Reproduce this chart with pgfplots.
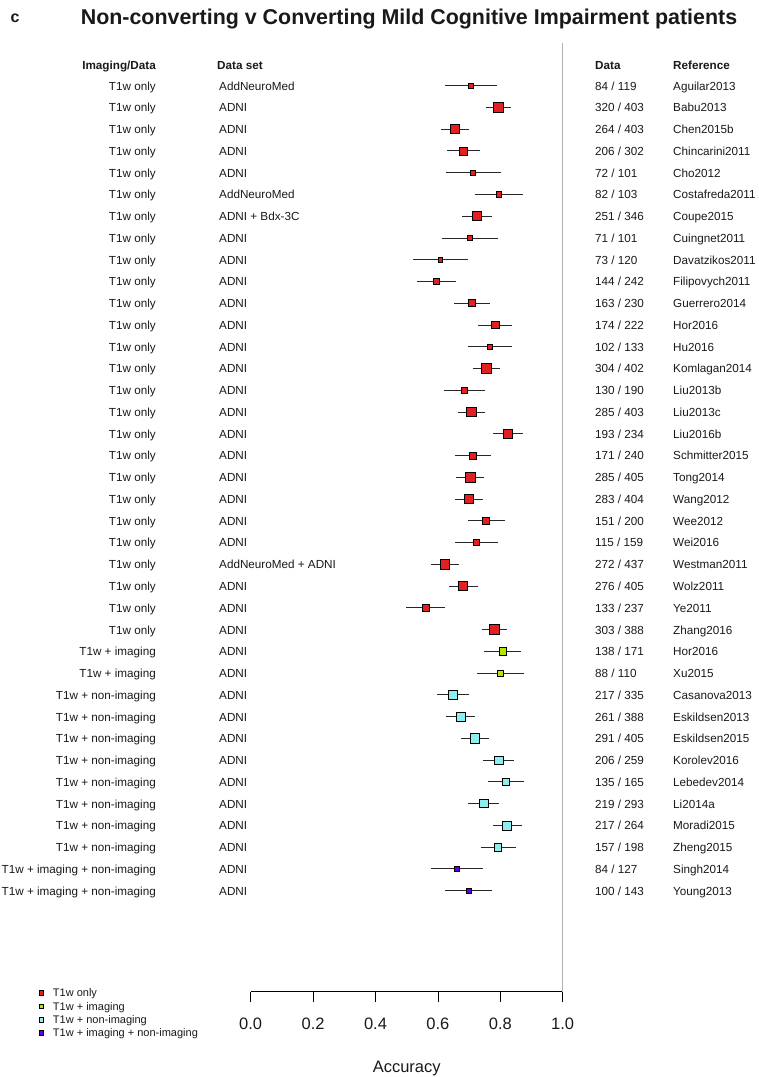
\documentclass[border=0pt]{standalone}
\usepackage{pgfplots}
\pgfplotsset{compat=1.18}
\usepackage{pgfplotstable}
\usepackage{fontspec}
\setmainfont{Liberation Sans}

\definecolor{cOne}{RGB}{226,32,36}
\definecolor{cTwo}{RGB}{182,230,0}
\definecolor{cThree}{RGB}{140,238,238}
\definecolor{cFour}{RGB}{96,0,224}
\definecolor{cil}{RGB}{40,40,40}
\definecolor{txt}{RGB}{25,25,25}
\newcommand{\body}{\fontsize{11.7bp}{14bp}\selectfont}

% row, accuracy, 95% CI low, 95% CI high
\pgfplotstableread[col sep=comma]{
row,acc,lo,hi
1,0.706,0.624,0.788
2,0.794,0.755,0.834
3,0.655,0.609,0.701
4,0.682,0.630,0.735
5,0.713,0.625,0.801
6,0.796,0.718,0.874
7,0.725,0.678,0.772
8,0.703,0.614,0.792
9,0.608,0.521,0.695
10,0.595,0.533,0.657
11,0.709,0.650,0.768
12,0.784,0.730,0.838
13,0.767,0.695,0.839
14,0.756,0.714,0.798
15,0.684,0.618,0.750
16,0.707,0.663,0.751
17,0.825,0.776,0.874
18,0.7125,0.655,0.770
19,0.704,0.659,0.748
20,0.700,0.655,0.745
21,0.755,0.695,0.815
22,0.723,0.654,0.793
23,0.622,0.577,0.668
24,0.681,0.636,0.727
25,0.561,0.498,0.624
26,0.781,0.740,0.822
}\tOne
\pgfplotstableread[col sep=comma]{
row,acc,lo,hi
27,0.807,0.748,0.866
28,0.800,0.725,0.875
}\tTwo
\pgfplotstableread[col sep=comma]{
row,acc,lo,hi
29,0.648,0.597,0.699
30,0.673,0.626,0.720
31,0.719,0.675,0.763
32,0.795,0.746,0.844
33,0.818,0.759,0.877
34,0.747,0.697,0.797
35,0.822,0.776,0.868
36,0.793,0.737,0.849
}\tThree
\pgfplotstableread[col sep=comma]{
row,acc,lo,hi
37,0.661,0.579,0.743
38,0.699,0.624,0.774
}\tFour

\pgfplotstableread[col sep=comma]{
imaging,dataset,data,ref
T1w only,AddNeuroMed,84 / 119,Aguilar2013
T1w only,ADNI,320 / 403,Babu2013
T1w only,ADNI,264 / 403,Chen2015b
T1w only,ADNI,206 / 302,Chincarini2011
T1w only,ADNI,72 / 101,Cho2012
T1w only,AddNeuroMed,82 / 103,Costafreda2011
T1w only,ADNI + Bdx-3C,251 / 346,Coupe2015
T1w only,ADNI,71 / 101,Cuingnet2011
T1w only,ADNI,73 / 120,Davatzikos2011
T1w only,ADNI,144 / 242,Filipovych2011
T1w only,ADNI,163 / 230,Guerrero2014
T1w only,ADNI,174 / 222,Hor2016
T1w only,ADNI,102 / 133,Hu2016
T1w only,ADNI,304 / 402,Komlagan2014
T1w only,ADNI,130 / 190,Liu2013b
T1w only,ADNI,285 / 403,Liu2013c
T1w only,ADNI,193 / 234,Liu2016b
T1w only,ADNI,171 / 240,Schmitter2015
T1w only,ADNI,285 / 405,Tong2014
T1w only,ADNI,283 / 404,Wang2012
T1w only,ADNI,151 / 200,Wee2012
T1w only,ADNI,115 / 159,Wei2016
T1w only,AddNeuroMed + ADNI,272 / 437,Westman2011
T1w only,ADNI,276 / 405,Wolz2011
T1w only,ADNI,133 / 237,Ye2011
T1w only,ADNI,303 / 388,Zhang2016
T1w + imaging,ADNI,138 / 171,Hor2016
T1w + imaging,ADNI,88 / 110,Xu2015
T1w + non-imaging,ADNI,217 / 335,Casanova2013
T1w + non-imaging,ADNI,261 / 388,Eskildsen2013
T1w + non-imaging,ADNI,291 / 405,Eskildsen2015
T1w + non-imaging,ADNI,206 / 259,Korolev2016
T1w + non-imaging,ADNI,135 / 165,Lebedev2014
T1w + non-imaging,ADNI,219 / 293,Li2014a
T1w + non-imaging,ADNI,217 / 264,Moradi2015
T1w + non-imaging,ADNI,157 / 198,Zheng2015
T1w + imaging + non-imaging,ADNI,84 / 127,Singh2014
T1w + imaging + non-imaging,ADNI,100 / 143,Young2013
}\tText

\pgfplotsset{
  ci/.style={forget plot, only marks, mark=none,
    error bars/.cd, x dir=both, x explicit, error mark=none,
    error bar style={line width=1.0bp, color=cil}},
  sq/.style={scatter, only marks, mark=square*,
    point meta=\thisrow{acc},
    scatter/use mapped color={draw=black, fill=#1},
    visualization depends on={0.415/(\thisrow{hi}-\thisrow{lo}) \as \msize},
    scatter/@pre marker code/.append style={/tikz/mark size=\msize bp},
    mark options={line width=0.8bp},
    legend image code/.code={\node[draw=black, fill=#1, line width=0.7bp,
      minimum width=4.6bp, minimum height=4.6bp, text height=0pt, text depth=0pt,
      text width=0pt, inner sep=0pt] at (2.6bp,0) {};}},
}

\begin{document}
\begin{tikzpicture}
\path[use as bounding box] (0,0) rectangle (759bp,-1077bp);

\begin{axis}[
  at={(250.7bp,-991.7bp)}, anchor=south west,
  scale only axis, width=312bp, height=946.7bp,
  xmin=0, xmax=1, ymin=-42.64, ymax=0.87,
  clip=false,
  axis x line*=bottom, axis y line=none,
  x axis line style={line width=0.8bp, black},
  xtick={0,0.2,0.4,0.6,0.8,1.0},
  tick align=outside, major tick length=10bp,
  x tick style={line width=0.8bp, black},
  /pgf/number format/assume math mode=true,
  xticklabel style={font=\fontsize{16.5bp}{18bp}\selectfont, text=txt, yshift=-13bp,
    /pgf/number format/.cd, fixed, fixed zerofill, precision=1},
  xlabel={Accuracy},
  xlabel style={at={(axis description cs:0.5,0)}, anchor=base, yshift=-81bp,
    font=\fontsize{16.5bp}{18bp}\selectfont, text=txt},
  legend style={at={(axis cs:-0.6795,-42.52)}, anchor=north west,
    draw=none, fill=none, inner sep=0pt, outer sep=0pt,
    row sep=5.6bp, column sep=9bp,
    nodes={inner sep=0pt, text height=7.7bp, text depth=0pt},
    font=\fontsize{11bp}{12bp}\selectfont, text=txt},
  legend cell align=left,
]
\addplot[forget plot, color=black!30, line width=1.3bp] coordinates {(1,0.95) (1,-42.64)};

\addplot[ci] table[x=acc, y expr=-\thisrow{row}, x error plus expr=\thisrow{hi}-\thisrow{acc}, x error minus expr=\thisrow{acc}-\thisrow{lo}] {\tOne};
\addplot[ci] table[x=acc, y expr=-\thisrow{row}, x error plus expr=\thisrow{hi}-\thisrow{acc}, x error minus expr=\thisrow{acc}-\thisrow{lo}] {\tTwo};
\addplot[ci] table[x=acc, y expr=-\thisrow{row}, x error plus expr=\thisrow{hi}-\thisrow{acc}, x error minus expr=\thisrow{acc}-\thisrow{lo}] {\tThree};
\addplot[ci] table[x=acc, y expr=-\thisrow{row}, x error plus expr=\thisrow{hi}-\thisrow{acc}, x error minus expr=\thisrow{acc}-\thisrow{lo}] {\tFour};

\addplot[sq=cOne] table[x=acc, y expr=-\thisrow{row}] {\tOne};
\addlegendentry{T1w only}
\addplot[sq=cTwo] table[x=acc, y expr=-\thisrow{row}] {\tTwo};
\addlegendentry{T1w + imaging}
\addplot[sq=cThree] table[x=acc, y expr=-\thisrow{row}] {\tThree};
\addlegendentry{T1w + non-imaging}
\addplot[sq=cFour] table[x=acc, y expr=-\thisrow{row}] {\tFour};
\addlegendentry{T1w + imaging + non-imaging}
\end{axis}

% title
\node[anchor=base, font=\bfseries\fontsize{21.4bp}{24bp}\selectfont, text=txt] at (409bp,-24bp)
  {Non-converting v Converting Mild Cognitive Impairment patients};
\node[anchor=base west, font=\bfseries\fontsize{16bp}{18bp}\selectfont, text=txt] at (7bp,-22bp) {c};

% headers
\begin{scope}[every node/.style={inner sep=0pt, font=\bfseries\body, text=txt}]
\node[anchor=base east] at (156bp,-69.3bp) {Imaging/Data};
\node[anchor=base west] at (217bp,-69.3bp) {Data set};
\node[anchor=base west] at (595bp,-69.3bp) {Data};
\node[anchor=base west] at (673bp,-69.3bp) {Reference};
\end{scope}

% row texts
\pgfplotstablegetrowsof{\tText}
\pgfmathtruncatemacro{\nrows}{\pgfplotsretval-1}
\foreach \i in {0,...,\nrows}{
  \pgfmathsetmacro{\yb}{-(90.0+21.76*\i)}
  \pgfplotstablegetelem{\i}{imaging}\of\tText
  \node[anchor=base east, inner sep=0pt, font=\body, text=txt] at (156bp,\yb bp) {\pgfplotsretval};
  \pgfplotstablegetelem{\i}{dataset}\of\tText
  \node[anchor=base west, inner sep=0pt, font=\body, text=txt] at (219bp,\yb bp) {\pgfplotsretval};
  \pgfplotstablegetelem{\i}{data}\of\tText
  \node[anchor=base west, inner sep=0pt, font=\body, text=txt] at (595bp,\yb bp) {\pgfplotsretval};
  \pgfplotstablegetelem{\i}{ref}\of\tText
  \node[anchor=base west, inner sep=0pt, font=\body, text=txt] at (673bp,\yb bp) {\pgfplotsretval};
}
\end{tikzpicture}
\end{document}
